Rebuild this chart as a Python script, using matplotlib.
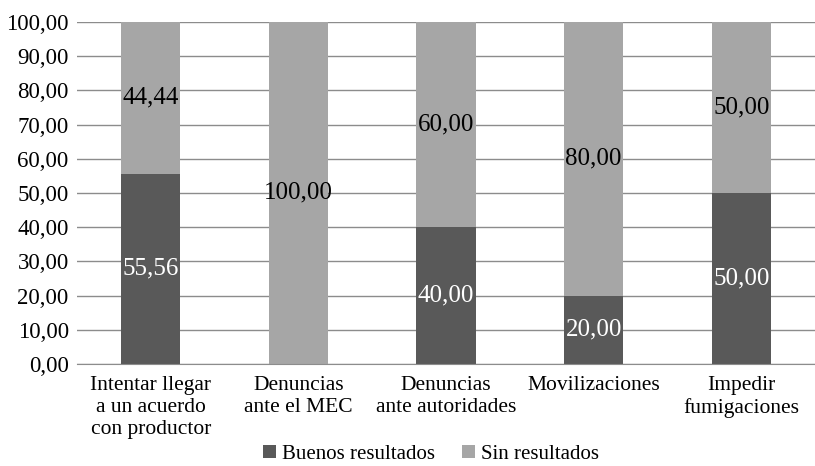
import matplotlib.pyplot as plt
import numpy as np

# data
categorias = ["Intentar llegar\na un acuerdo\ncon productor", "Denuncias\nante el MEC",
              "Denuncias\nante autoridades", "Movilizaciones", "Impedir\nfumigaciones"]
buenos = [55.56, 0.0, 40.00, 20.00, 50.00]
sin_res = [44.44, 100.00, 60.00, 80.00, 50.00]
yticks = [0, 10, 20, 30, 40, 50, 60, 70, 80, 90, 100]

plt.rcParams['font.family'] = ['Liberation Serif', 'DejaVu Serif']
plt.rcParams['font.size'] = 15

fig = plt.figure(figsize=(8.15, 4.66), dpi=100)
ax = fig.add_axes([0.0945, 0.219, 0.9055, 0.734])

x = np.arange(len(categorias))
dark = '#595959'
light = '#a6a6a6'
ax.bar(x, buenos, width=0.4, color=dark, label='Buenos resultados', zorder=2)
ax.bar(x, sin_res, width=0.4, bottom=buenos, color=light, label='Sin resultados', zorder=2)

# value labels
for i in range(len(x)):
    if buenos[i] > 0:
        ax.text(x[i], buenos[i] / 2, f"{buenos[i]:.2f}".replace('.', ','),
                ha='center', va='center', color='white', fontsize=18, zorder=3)
    ax.text(x[i], buenos[i] + sin_res[i] / 2, f"{sin_res[i]:.2f}".replace('.', ','),
            ha='center', va='center', color='black', fontsize=18, zorder=3)

ax.set_xlim(-0.5, len(x) - 0.5)
ax.set_ylim(0, 100)
ax.set_yticks(yticks)
ax.set_yticklabels([f"{t:.2f}".replace('.', ',') for t in yticks], fontsize=16.5)
ax.set_xticks(x)
ax.set_xticklabels(categorias, linespacing=1.2, fontsize=15.5)
ax.yaxis.grid(True, color='#8c8c8c', linewidth=1, zorder=0)
ax.set_axisbelow(True)
for s in ['top', 'right', 'left']:
    ax.spines[s].set_visible(False)
ax.spines['bottom'].set_color('#8c8c8c')
ax.tick_params(axis='both', length=0)
ax.tick_params(axis='y', pad=6)
ax.tick_params(axis='x', pad=9)

fig.legend(loc='lower center', ncol=2, frameon=False, bbox_to_anchor=(0.529, -0.035),
           handlelength=0.6, handleheight=0.6, handletextpad=0.3, columnspacing=1.3,
           fontsize=15)

fig.savefig('out.png', dpi=100)
